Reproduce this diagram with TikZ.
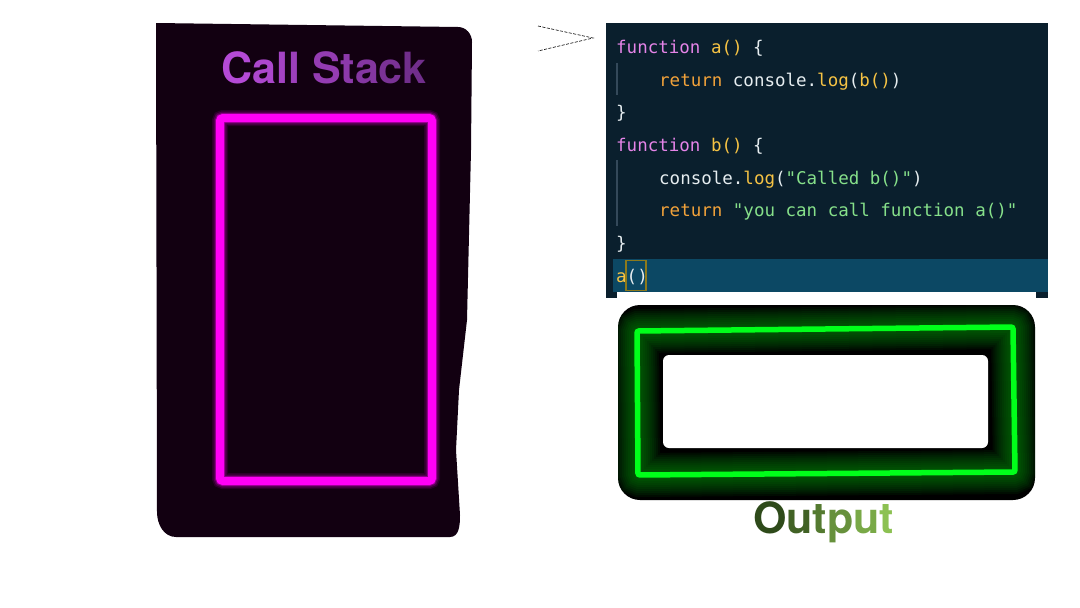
\documentclass[tikz,border=0pt]{standalone}
\usepackage{fontspec}
\newfontfamily\codefont[Ligatures=TeXOff]{DejaVu Sans Mono}
\newfontfamily\headfont{TeX Gyre Heros}

\definecolor{stackbg}{HTML}{120011}
\definecolor{neonpink}{HTML}{FF00F6}
\definecolor{editorbg}{HTML}{0A1F2D}
\definecolor{linehl}{HTML}{0C4864}
\definecolor{guide}{HTML}{34495A}
\definecolor{matchbox}{HTML}{8C7A1C}
\definecolor{jsfun}{HTML}{E584E8}
\definecolor{jsret}{HTML}{F2A23A}
\definecolor{jsname}{HTML}{F6C344}
\definecolor{jsstr}{HTML}{86E08A}
\definecolor{jsplain}{HTML}{E6EDF0}
\definecolor{neongreen}{HTML}{00FF1A}
\definecolor{glowgreen}{HTML}{008C0E}
\definecolor{titleL}{HTML}{B44AD6}
\definecolor{titleR}{HTML}{712E8C}
\definecolor{outL}{HTML}{2E4A1A}
\definecolor{outR}{HTML}{8CC152}

\newcommand{\kwfun}[1]{\textcolor{jsfun}{#1}}
\newcommand{\kwret}[1]{\textcolor{jsret}{#1}}
\newcommand{\jsid}[1]{\textcolor{jsname}{#1}}
\newcommand{\jsstring}[1]{\textcolor{jsstr}{#1}}

\tikzset{
  codeline/.style={anchor=base west, inner sep=0pt, text=jsplain,
    font=\codefont\fontsize{17.5}{20}\selectfont},
  headline/.style={anchor=base west, inner sep=0pt,
    font=\headfont\bfseries\fontsize{43}{50}\selectfont}
}

\begin{document}
\begin{tikzpicture}[x=1pt,y=-1pt]
\useasboundingbox (0,0) rectangle (1080,608);
\fill [white] (0,0) rectangle (1080,608);

% call stack board
\path [fill=stackbg] (156,23) -- (458,27) to [out=0, in=90] (472,42) -- (471,150) -- (467,320) -- (459,390) -- (456,450) -- (460,515) to [out=-90, in=0] (450,537) -- (176,537) to [out=180, in=-90] (157,512) -- cycle;

\node [headline] (stacktitle) at (221,83) {\textcolor{titleL}{C}\textcolor{titleL!88!titleR}{a}\textcolor{titleL!76!titleR}{l}\textcolor{titleL!64!titleR}{l} \textcolor{titleL!52!titleR}{S}\textcolor{titleL!40!titleR}{t}\textcolor{titleL!28!titleR}{a}\textcolor{titleL!14!titleR}{c}\textcolor{titleR}{k}};

\foreach \w/\o in {16/0.10, 13/0.18, 10/0.35}
  \draw [line width=\w, neonpink, opacity=\o, rounded corners=3] (220,118) rectangle (432,481);
\draw [line width=8, neonpink, rounded corners=3] (220,118) rectangle (432,481);

% pointer
\coordinate (pointtip) at (593,38);
\draw [dashed, dash pattern=on 3pt off 1.5pt, line width=0.6] (538,26) -- (pointtip) -- (538,51);

% editor
\fill [editorbg] (606,23) rectangle (1048,292);
\fill [editorbg] (606,292) rectangle (617,298);
\fill [editorbg] (1036,292) rectangle (1048,298);
\fill [linehl] (613,259) rectangle (1048,291.5);

\draw [guide, line width=1.2] (617,63) -- (617,95);
\draw [guide, line width=1.2] (617,160) -- (617,226);

\node [codeline] (line1) at (616,53) {\kwfun{function} \jsid{a()} \{};
\node [codeline] (line2) at (659,86) {\kwret{return} console.\jsid{log}(\jsid{b()})};
\node [codeline] (line3) at (616,118) {\}};
\node [codeline] (line4) at (616,151) {\kwfun{function} \jsid{b()} \{};
\node [codeline] (line5) at (659,184) {console.\jsid{log}(\jsstring{"Called b()"})};
\node [codeline] (line6) at (659,216) {\kwret{return} \jsstring{"you can call function a()"}};
\node [codeline] (line7) at (616,249) {\}};
\node [codeline] (line8) at (616,282) {\jsid{a}()};
\draw [matchbox, line width=1.2] (626,260.5) rectangle (646,290.5);

% output box
\fill [black, rounded corners=22] (618,305) rectangle (1035,500);
\begin{scope}
\clip [rounded corners=22] (618,305) rectangle (1035,500);
\foreach \w in {44,40,...,8}
  \draw [line width=\w, glowgreen, opacity=0.09, rounded corners=2] (637,331) -- (1013,327) -- (1015,472) -- (638,475) -- cycle;
\end{scope}
\draw [line width=5.5, neongreen, rounded corners=2] (637,331) -- (1013,327) -- (1015,472) -- (638,475) -- cycle;
\fill [white, rounded corners=6] (663,355) rectangle (988,448);

\node [headline] (outtitle) at (753,533) {\textcolor{outL}{O}\textcolor{outL!80!outR}{u}\textcolor{outL!60!outR}{t}\textcolor{outL!40!outR}{p}\textcolor{outL!20!outR}{u}\textcolor{outR}{t}};
\end{tikzpicture}
\end{document}
